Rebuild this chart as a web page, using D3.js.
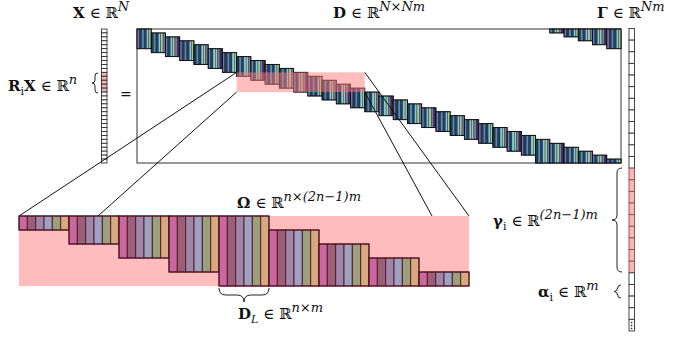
<!DOCTYPE html>
<html>
<head>
<meta charset="utf-8">
<script src="https://cdn.jsdelivr.net/npm/d3@7/dist/d3.min.js"></script>
<style>
  body { margin: 0; background: #fff; }
  svg text { font-family: "DejaVu Serif", "Liberation Serif", serif; fill: #111; }
</style>
</head>
<body>
<svg width="682" height="337"></svg>
<script>
// ---- data ----
const nBands = 34;                 // shifted atom blocks in D (columns of width m)
const bandSteps = 5;               // block height, in rows of D
const wrapBands = [29, 30, 31, 32, 33];
const wrapSteps = [1, 2, 3, 4, 5]; // rows that wrap round to the top
const dStripes = ["#8372b0", "#27385a", "#4a93b8", "#2c3d60", "#7ccbe3", "#9ed08d"];
const xCells = 34;
const xPatch = [11, 12, 13, 14, 15];
const gammaCells = 26;
const gammaPatch = [12, 13, 14, 15, 16, 17, 18, 19, 20];
const omegaBands = [0, 1, 2, 3, 4, 5, 6, 7, 8];
const omegaTop = [0, 0, 0, 0, 0, 1, 2, 3, 4];
const omegaBottom = [1, 2, 3, 4, 5, 5, 5, 5, 5];
const atomColors = ["#c8689c", "#9a6079", "#9e87a8", "#9da2c0", "#9aa07c", "#d6aa7c"];
const patchBands = [7, 15];        // first/last block under the highlight

let svg = d3.select("svg");

// scales for D
let xD = d3.scaleLinear().domain([0, nBands]).range([137, 621]),
    yD = d3.scaleLinear().domain([0, nBands]).range([29, 163]);

// D frame
svg.append("rect")
    .attr("x", xD(0)).attr("y", yD(0))
    .attr("width", xD(nBands) - xD(0)).attr("height", yD(nBands) - yD(0))
    .attr("fill", "#fff").attr("stroke", "#333").attr("stroke-width", 1);

function drawBlock(g, x0, x1, y0, y1, colors, stroke) {
    let sx = d3.scaleBand().domain(d3.range(colors.length)).range([x0, x1]);
    g.selectAll(null).data(colors).enter().append("rect")
        .attr("x", (d, i) => sx(i)).attr("y", y0)
        .attr("width", sx.bandwidth()).attr("height", y1 - y0)
        .attr("fill", d => d)
        .attr("stroke", stroke.inner).attr("stroke-width", stroke.innerW);
    g.append("rect")
        .attr("x", x0).attr("y", y0).attr("width", x1 - x0).attr("height", y1 - y0)
        .attr("fill", "none").attr("stroke", stroke.outer).attr("stroke-width", 1);
}

let gD = svg.append("g");
d3.range(nBands).forEach(function (i) {
    let top = i, bot = Math.min(i + bandSteps + (i >= 28 ? 1 : 0), nBands);
    let rot = i % 3;
    let cols = dStripes.slice(rot).concat(dStripes.slice(0, rot));
    drawBlock(gD, xD(i), xD(i + 1), yD(top), yD(bot), cols,
        {inner: "#1a1a2a", innerW: 0.4, outer: "#111"});
});
wrapBands.forEach(function (b, k) {
    let rot = b % 3;
    let cols = dStripes.slice(rot).concat(dStripes.slice(0, rot));
    drawBlock(gD, xD(b), xD(b + 1), yD(0), yD(wrapSteps[k]), cols,
        {inner: "#1a1a2a", innerW: 0.4, outer: "#111"});
});

// highlight of the patch rows in D
svg.append("rect")
    .attr("x", xD(patchBands[0])).attr("y", yD(xPatch[0]))
    .attr("width", xD(patchBands[1] + 1) - xD(patchBands[0]))
    .attr("height", yD(xPatch[xPatch.length - 1] + 1) - yD(xPatch[0]))
    .attr("fill", "#ff7b7b").attr("fill-opacity", 0.5);

// X vector
let yX = d3.scaleBand().domain(d3.range(xCells)).range([29, 163]);
svg.append("g").selectAll("rect").data(d3.range(xCells)).enter().append("rect")
    .attr("x", 101.5).attr("y", d => yX(d))
    .attr("width", 5.5).attr("height", yX.bandwidth())
    .attr("fill", d => xPatch.includes(d) ? "#f6b4b4" : "#fff")
    .attr("stroke", "#222").attr("stroke-width", 0.8);

// Gamma vector
let yG = d3.scaleBand().domain(d3.range(gammaCells)).range([28.5, 331]);
svg.append("g").selectAll("rect").data(d3.range(gammaCells)).enter().append("rect")
    .attr("x", 629).attr("y", d => yG(d))
    .attr("width", 5.5).attr("height", yG.bandwidth())
    .attr("fill", d => gammaPatch.includes(d) ? "#f8b8b8" : "#fff")
    .attr("stroke", d => gammaPatch.includes(d) ? "#9a4a4a" : "#333").attr("stroke-width", 0.9);
svg.append("text").attr("x", 631.8).attr("y", yG(gammaCells - 1) + 10)
    .attr("text-anchor", "middle").style("font-size", "9px").style("font-weight", "bold").text("⋮");

// Omega (zoomed local dictionary)
let xO = d3.scaleBand().domain(omegaBands).range([19, 469]),
    yO = d3.scaleLinear().domain([0, 5]).range([216, 286]);
svg.append("rect")
    .attr("x", xO.range()[0]).attr("y", yO(0))
    .attr("width", xO.range()[1] - xO.range()[0]).attr("height", yO(5) - yO(0))
    .attr("fill", "#ffbcbc");
let gO = svg.append("g");
omegaBands.forEach(function (b) {
    drawBlock(gO, xO(b), xO(b) + xO.bandwidth(), yO(omegaTop[b]), yO(omegaBottom[b]), atomColors,
        {inner: "#5a1a2c", innerW: 1, outer: "#4a1020"});
});

// zoom lines
let lines = [
    [[xD(patchBands[0]), yD(xPatch[0])], [xO.range()[0], yO(0)]],
    [[xD(patchBands[0]), yD(xPatch[4] + 1)], [98, yO(0)]],
    [[xD(patchBands[1] + 1), yD(xPatch[0])], [xO.range()[1], yO(0)]],
    [[xD(patchBands[1] + 1), yD(xPatch[4] + 1)], [432, yO(0)]]
];
svg.append("g").selectAll("line").data(lines).enter().append("line")
    .attr("x1", d => d[0][0]).attr("y1", d => d[0][1])
    .attr("x2", d => d[1][0]).attr("y2", d => d[1][1])
    .attr("stroke", "#111").attr("stroke-width", 1);

// braces
function braceV(x, y0, y1, w) { // tip points left
    let ym = (y0 + y1) / 2, h = w / 2;
    return "M" + x + "," + y0 +
        " Q" + (x - h) + "," + y0 + " " + (x - h) + "," + (y0 + h) +
        " L" + (x - h) + "," + (ym - h) +
        " Q" + (x - h) + "," + ym + " " + (x - w) + "," + ym +
        " Q" + (x - h) + "," + ym + " " + (x - h) + "," + (ym + h) +
        " L" + (x - h) + "," + (y1 - h) +
        " Q" + (x - h) + "," + y1 + " " + x + "," + y1;
}
function braceH(x0, x1, y, w) { // tip points down
    let xm = (x0 + x1) / 2, h = w / 2;
    return "M" + x0 + "," + y +
        " Q" + x0 + "," + (y + h) + " " + (x0 + h) + "," + (y + h) +
        " L" + (xm - h) + "," + (y + h) +
        " Q" + xm + "," + (y + h) + " " + xm + "," + (y + w) +
        " Q" + xm + "," + (y + h) + " " + (xm + h) + "," + (y + h) +
        " L" + (x1 - h) + "," + (y + h) +
        " Q" + x1 + "," + (y + h) + " " + x1 + "," + y;
}
let braces = [
    braceV(98, 73, 93, 6),
    braceV(622, 168, 272, 10),
    braceV(621, 285, 298, 7),
    braceH(219, 269, 288, 14)
];
svg.append("g").selectAll("path").data(braces).enter().append("path")
    .attr("d", d => d).attr("fill", "none").attr("stroke", "#222").attr("stroke-width", 1);

// labels
function label(x, y, parts) {
    let t = svg.append("text").attr("x", x).attr("y", y).style("font-size", "15px");
    let shift = 0;
    parts.forEach(function (p) {
        let s = t.append("tspan").text(p.t);
        let want = p.sup ? -7 : (p.sub ? 4 : 0);
        if (want !== shift) { s.attr("dy", want - shift); shift = want; }
        if (p.b) s.style("font-weight", "bold");
        if (p.i) s.style("font-style", "italic");
        if (p.sup) s.style("font-size", "13px");
        if (p.sub) s.style("font-size", "11px");
    });
    return t;
}
label(73, 18, [{t: "X", b: 1}, {t: " ∈ ℝ"}, {t: "N", i: 1, sup: 1}]);
label(333, 18, [{t: "D", b: 1}, {t: " ∈ ℝ"}, {t: "N×Nm", i: 1, sup: 1}]);
label(597, 18, [{t: "Γ", b: 1}, {t: " ∈ ℝ"}, {t: "Nm", i: 1, sup: 1}]);
label(8, 91, [{t: "R", b: 1}, {t: "i", sub: 1}, {t: "X", b: 1}, {t: " ∈ ℝ"}, {t: "n", i: 1, sup: 1}]);
svg.append("text").attr("x", 120).attr("y", 99).style("font-size", "14px").text("=");
label(237, 208, [{t: "Ω", b: 1}, {t: " ∈ ℝ"}, {t: "n×(2n−1)m", i: 1, sup: 1}]);
label(238, 319, [{t: "D", b: 1}, {t: "L", i: 1, sub: 1}, {t: " ∈ ℝ"}, {t: "n×m", i: 1, sup: 1}]);
label(493, 226, [{t: "γ", b: 1}, {t: "i", sub: 1}, {t: " ∈ ℝ"}, {t: "(2n−1)m", i: 1, sup: 1}]);
label(538, 297, [{t: "α", b: 1}, {t: "i", sub: 1}, {t: " ∈ ℝ"}, {t: "m", i: 1, sup: 1}]);
</script>
</body>
</html>
